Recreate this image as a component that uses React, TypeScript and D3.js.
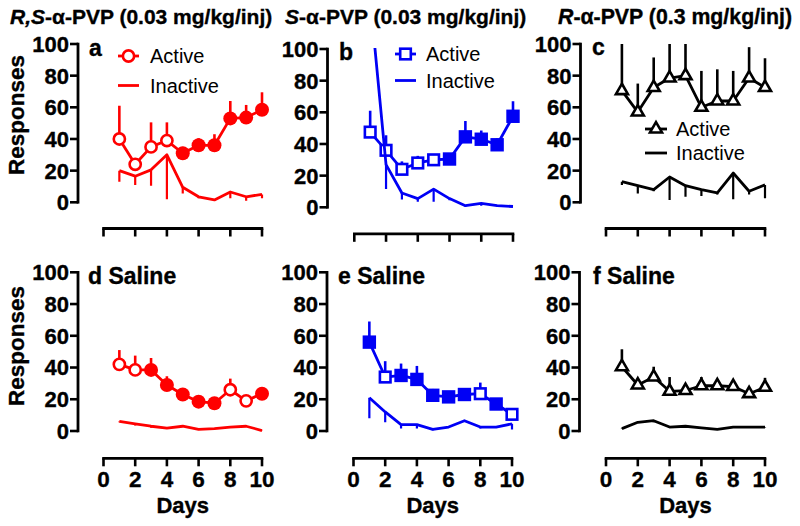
import React from "react";
import * as d3 from "d3";

const days = [1, 2, 3, 4, 5, 6, 7, 8, 9, 10];
const yTicks = [0, 20, 40, 60, 80, 100];
const xTicks = [0, 2, 4, 6, 8, 10];

// Panel a: R,S-α-PVP
const aActive = [40, 24, 35, 39, 31, 36, 36, 53, 53.5, 58.5];
const aActiveErr = [21, 4, 15.5, 11.5, 4, 4.5, 7, 11, 8, 11];
const aActiveFilled = [0, 0, 0, 0, 1, 1, 1, 1, 1, 1];
const aInactive = [20, 16.5, 20.5, 30, 9.5, 3.5, 1.5, 6.5, 3.5, 5];
const aInactiveErr = [7, 5.5, 10, 28, 4, 1, 0.5, 4, 2.5, 2.5];

// Panel b: S-α-PVP
const bActive = [47.5, 36, 24, 28, 30, 30.5, 44.5, 43, 39.5, 57.5];
const bActiveErr = [13.5, 9.5, 5, 4.5, 2, 3.5, 10, 5.5, 4, 9.5];
const bActiveFilled = [0, 0, 0, 0, 0, 1, 1, 1, 1, 1];
const bInactive = [132, 27, 9, 5.5, 11.5, 5.5, 1, 2.5, 1, 0.5];
const bInactiveErr = [0, 15.5, 4, 2, 8, 1, 0.5, 1.5, 0.5, 0];

// Panel c: R-α-PVP
const cActive = [70.5, 57, 72.5, 78.5, 80, 60, 64, 64, 78.5, 72.5];
const cActiveErr = [29.5, 18, 19, 21.5, 20, 23, 20, 19, 19.5, 18.5];
const cActiveFilled = [0, 0, 0, 0, 0, 0, 0, 0, 0, 0];
const cInactive = [13, 10.5, 8, 16, 10.5, 8, 6, 18.5, 7, 11];
const cInactiveErr = [2, 5, 1, 14.5, 7, 4, 1, 16.5, 2, 8.5];

// Panel d: Saline
const dActive = [42, 38.5, 38.5, 29, 23, 18.5, 17.5, 26, 19, 23.5];
const dActiveErr = [9, 9, 7.5, 5.5, 2, 1, 1, 7, 3.5, 4];
const dActiveFilled = [0, 0, 1, 1, 1, 1, 1, 0, 0, 1];
const dInactive = [6, 4.5, 3, 1.8, 3, 1, 1.5, 2.5, 3, 0.3];
const dInactiveErr = [0.5, 1, 1, 0.5, 0.5, 0.3, 0.3, 0.5, 0.5, 0.2];

// Panel e: Saline
const eActive = [56, 34, 35, 32.5, 22.5, 21.5, 23, 23.5, 17, 10.5];
const eActiveErr = [13, 10, 7.5, 8.5, 4, 1, 1, 7, 3.5, 1];
const eActiveFilled = [1, 0, 1, 1, 1, 1, 1, 0, 1, 0];
const eInactive = [21, 12, 4, 4, 1, 2.5, 6.5, 2.5, 2.5, 4.5];
const eInactiveErr = [13, 6.5, 2.5, 2.5, 0.5, 0.5, 0.5, 1, 0.5, 3.5];

// Panel f: Saline
const fActive = [40.5, 29, 34, 25, 25.5, 28.5, 28.5, 28, 23.5, 27.5];
const fActiveErr = [11, 3, 6.5, 9, 3, 5.5, 3.5, 2, 2.5, 6];
const fActiveFilled = [0, 0, 0, 0, 0, 0, 0, 0, 0, 0];
const fInactive = [1.5, 5.5, 6.5, 2.5, 3, 2, 1, 2.5, 2.5, 2.5];
const fInactiveErr = [0.3, 0.5, 1, 0.5, 0.3, 0.3, 0.3, 0.3, 0.3, 0.3];

const RED = "#ff0000";
const BLUE = "#0000f5";
const BLACK = "#000000";
const FONT = "'Liberation Sans', Arial, Helvetica, sans-serif";
const BOLD_STROKE = 0.35;

type Marker = "circle" | "square" | "triangle";

interface PanelCfg {
  id: string;
  axisX: number;
  x0: number;
  x1: number;
  yTop: number;
  yBot: number;
  xAxisY: number;
  showXLabels: boolean;
  color: string;
  marker: Marker;
  active: number[];
  activeErr: number[];
  filled: number[];
  inactive: number[];
  inactiveErr: number[];
  letter: string;
  letterX: number;
  letterY: number;
  legend?: { x1: number; x2: number; mx: number; yA: number; yI: number; tx: number };
  ylabel?: { x: number; y: number };
}

function MarkerShape({ type, x, y, color, filled }: { type: Marker; x: number; y: number; color: string; filled: boolean }) {
  const sw = 2.6;
  if (type === "circle") {
    return filled ? (
      <circle cx={x} cy={y} r={7} fill={color} />
    ) : (
      <circle cx={x} cy={y} r={5.6} fill="#fff" stroke={color} strokeWidth={sw} />
    );
  }
  if (type === "square") {
    return filled ? (
      <rect x={x - 6.7} y={y - 6.7} width={13.4} height={13.4} fill={color} />
    ) : (
      <rect x={x - 5.3} y={y - 5.3} width={10.6} height={10.6} fill="#fff" stroke={color} strokeWidth={sw} />
    );
  }
  const s = 12;
  const h = (s * Math.sqrt(3)) / 2;
  const p = `M${x},${y - (2 * h) / 3}L${x + s / 2},${y + h / 3}L${x - s / 2},${y + h / 3}Z`;
  return <path d={p} fill={filled ? color : "#fff"} stroke={color} strokeWidth={sw} strokeLinejoin="miter" />;
}

function BoldText(props: any) {
  const { children, ...rest } = props;
  return (
    <text fontFamily={FONT} fontWeight="bold" stroke="#000" strokeWidth={BOLD_STROKE} {...rest}>
      {children}
    </text>
  );
}

function Panel({ cfg }: { cfg: PanelCfg }) {
  const x = d3.scaleLinear().domain([0, 10]).range([cfg.x0, cfg.x1]);
  const y = d3.scaleLinear().domain([0, 100]).range([cfg.yBot, cfg.yTop]);
  const line = d3
    .line<number>()
    .x((_, i) => x(days[i]))
    .y((v) => y(v));
  const c = cfg.color;
  const clipId = `clip-${cfg.id}`;
  return (
    <g>
      <defs>
        <clipPath id={clipId}>
          <rect x={cfg.axisX} y={cfg.yTop - 1} width={220} height={cfg.yBot - cfg.yTop + 20} />
        </clipPath>
      </defs>
      {/* Y axis */}
      <line x1={cfg.axisX} x2={cfg.axisX} y1={cfg.yTop - 1.3} y2={cfg.yBot + 1.3} stroke={BLACK} strokeWidth={2.8} />
      {yTicks.map((t) => (
        <g key={t}>
          <line x1={cfg.axisX - 8} x2={cfg.axisX} y1={y(t)} y2={y(t)} stroke={BLACK} strokeWidth={2.6} />
          <BoldText x={cfg.axisX - 9} y={y(t)} dy="0.36em" textAnchor="end" fontSize={22}>
            {t}
          </BoldText>
        </g>
      ))}
      {/* X axis */}
      <line x1={cfg.x0 - 1.3} x2={cfg.x1 + 1.3} y1={cfg.xAxisY} y2={cfg.xAxisY} stroke={BLACK} strokeWidth={2.8} />
      {xTicks.map((t) => (
        <g key={t}>
          <line x1={x(t)} x2={x(t)} y1={cfg.xAxisY} y2={cfg.xAxisY + 8} stroke={BLACK} strokeWidth={2.6} />
          {cfg.showXLabels && (
            <BoldText x={x(t)} y={cfg.xAxisY + 29} textAnchor="middle" fontSize={22.5}>
              {t}
            </BoldText>
          )}
        </g>
      ))}
      {cfg.showXLabels && (
        <BoldText x={(cfg.x0 + cfg.x1) / 2} y={cfg.xAxisY + 55} textAnchor="middle" fontSize={22}>
          Days
        </BoldText>
      )}
      {cfg.ylabel && (
        <BoldText
          transform={`translate(${cfg.ylabel.x},${cfg.ylabel.y}) rotate(-90)`}
          textAnchor="middle"
          fontSize={22.5}
        >
          Responses
        </BoldText>
      )}
      <BoldText x={cfg.letterX} y={cfg.letterY} fontSize={23}>
        {cfg.letter}
      </BoldText>
      {/* Active series */}
      <g>
        {cfg.active.map((v, i) => (
          <line
            key={i}
            x1={x(days[i])}
            x2={x(days[i])}
            y1={y(v)}
            y2={y(Math.min(100, v + cfg.activeErr[i]))}
            stroke={c}
            strokeWidth={2.6}
          />
        ))}
        <path d={line(cfg.active) || ""} fill="none" stroke={c} strokeWidth={2.8} strokeLinejoin="round" />
        {cfg.active.map((v, i) => (
          <MarkerShape key={i} type={cfg.marker} x={x(days[i])} y={y(v)} color={c} filled={cfg.filled[i] === 1} />
        ))}
      </g>
      {/* Inactive series */}
      <g clipPath={`url(#${clipId})`}>
        {cfg.inactive.map((v, i) =>
          cfg.inactiveErr[i] > 0 ? (
            <line
              key={i}
              x1={x(days[i])}
              x2={x(days[i])}
              y1={y(v)}
              y2={y(Math.max(0, v - cfg.inactiveErr[i]))}
              stroke={c}
              strokeWidth={2.2}
            />
          ) : null
        )}
        <path d={line(cfg.inactive) || ""} fill="none" stroke={c} strokeWidth={2.8} strokeLinejoin="round" />
      </g>
      {/* Legend */}
      {cfg.legend && (
        <g>
          <line x1={cfg.legend.x1} x2={cfg.legend.x2} y1={cfg.legend.yA} y2={cfg.legend.yA} stroke={c} strokeWidth={2.8} />
          <MarkerShape type={cfg.marker} x={cfg.legend.mx} y={cfg.legend.yA} color={c} filled={false} />
          <text x={cfg.legend.tx} y={cfg.legend.yA} dy="0.36em" fontFamily={FONT} fontSize={20}>
            Active
          </text>
          <line x1={cfg.legend.x1} x2={cfg.legend.x2} y1={cfg.legend.yI} y2={cfg.legend.yI} stroke={c} strokeWidth={2.8} />
          <text x={cfg.legend.tx} y={cfg.legend.yI} dy="0.36em" fontFamily={FONT} fontSize={20}>
            Inactive
          </text>
        </g>
      )}
    </g>
  );
}

const panels: PanelCfg[] = [
  {
    id: "a", axisX: 78, x0: 103.5, x1: 262, yTop: 44, yBot: 202.3, xAxisY: 228.5, showXLabels: false,
    color: RED, marker: "circle", active: aActive, activeErr: aActiveErr, filled: aActiveFilled,
    inactive: aInactive, inactiveErr: aInactiveErr, letter: "a", letterX: 89, letterY: 56,
    legend: { x1: 118, x2: 139, mx: 128.5, yA: 56, yI: 85.5, tx: 150 }, ylabel: { x: 24, y: 115 },
  },
  {
    id: "b", axisX: 327.5, x0: 354.3, x1: 513, yTop: 49, yBot: 207.3, xAxisY: 233.8, showXLabels: false,
    color: BLUE, marker: "square", active: bActive, activeErr: bActiveErr, filled: bActiveFilled,
    inactive: bInactive, inactiveErr: bInactiveErr, letter: "b", letterX: 339, letterY: 60,
    legend: { x1: 395, x2: 416, mx: 405.5, yA: 54, yI: 80.5, tx: 426 },
  },
  {
    id: "c", axisX: 580.5, x0: 606, x1: 765, yTop: 44, yBot: 202.3, xAxisY: 228.5, showXLabels: false,
    color: BLACK, marker: "triangle", active: cActive, activeErr: cActiveErr, filled: cActiveFilled,
    inactive: cInactive, inactiveErr: cInactiveErr, letter: "c", letterX: 592, letterY: 55,
    legend: { x1: 645, x2: 667, mx: 656, yA: 129, yI: 153, tx: 676 },
  },
  {
    id: "d", axisX: 78, x0: 103.5, x1: 262, yTop: 272.3, yBot: 431, xAxisY: 458.3, showXLabels: true,
    color: RED, marker: "circle", active: dActive, activeErr: dActiveErr, filled: dActiveFilled,
    inactive: dInactive, inactiveErr: dInactiveErr, letter: "d Saline", letterX: 88, letterY: 283.5,
    ylabel: { x: 24, y: 346 },
  },
  {
    id: "e", axisX: 327, x0: 353.5, x1: 512, yTop: 272.3, yBot: 431, xAxisY: 458.3, showXLabels: true,
    color: BLUE, marker: "square", active: eActive, activeErr: eActiveErr, filled: eActiveFilled,
    inactive: eInactive, inactiveErr: eInactiveErr, letter: "e Saline", letterX: 338, letterY: 283.5,
  },
  {
    id: "f", axisX: 579.5, x0: 606, x1: 765, yTop: 272.3, yBot: 431, xAxisY: 458.3, showXLabels: true,
    color: BLACK, marker: "triangle", active: fActive, activeErr: fActiveErr, filled: fActiveFilled,
    inactive: fInactive, inactiveErr: fInactiveErr, letter: "f Saline", letterX: 593, letterY: 283.5,
  },
];

export default function App() {
  return (
    <svg
      width={800}
      height={526}
      viewBox="0 0 800 526"
      style={{ position: "absolute", left: 0, top: 0, background: "#fff" }}
    >
      <rect x={0} y={0} width={800} height={526} fill="#fff" />
      <BoldText x={10} y={24} fontSize={21}>
        <tspan fontStyle="italic">R,S</tspan>-α-PVP (0.03 mg/kg/inj)
      </BoldText>
      <BoldText x={285} y={24} fontSize={21}>
        <tspan fontStyle="italic">S</tspan>-α-PVP (0.03 mg/kg/inj)
      </BoldText>
      <BoldText x={558} y={24} fontSize={21.3}>
        <tspan fontStyle="italic">R</tspan>-α-PVP (0.3 mg/kg/inj)
      </BoldText>
      {panels.map((p) => (
        <Panel key={p.id} cfg={p} />
      ))}
    </svg>
  );
}
